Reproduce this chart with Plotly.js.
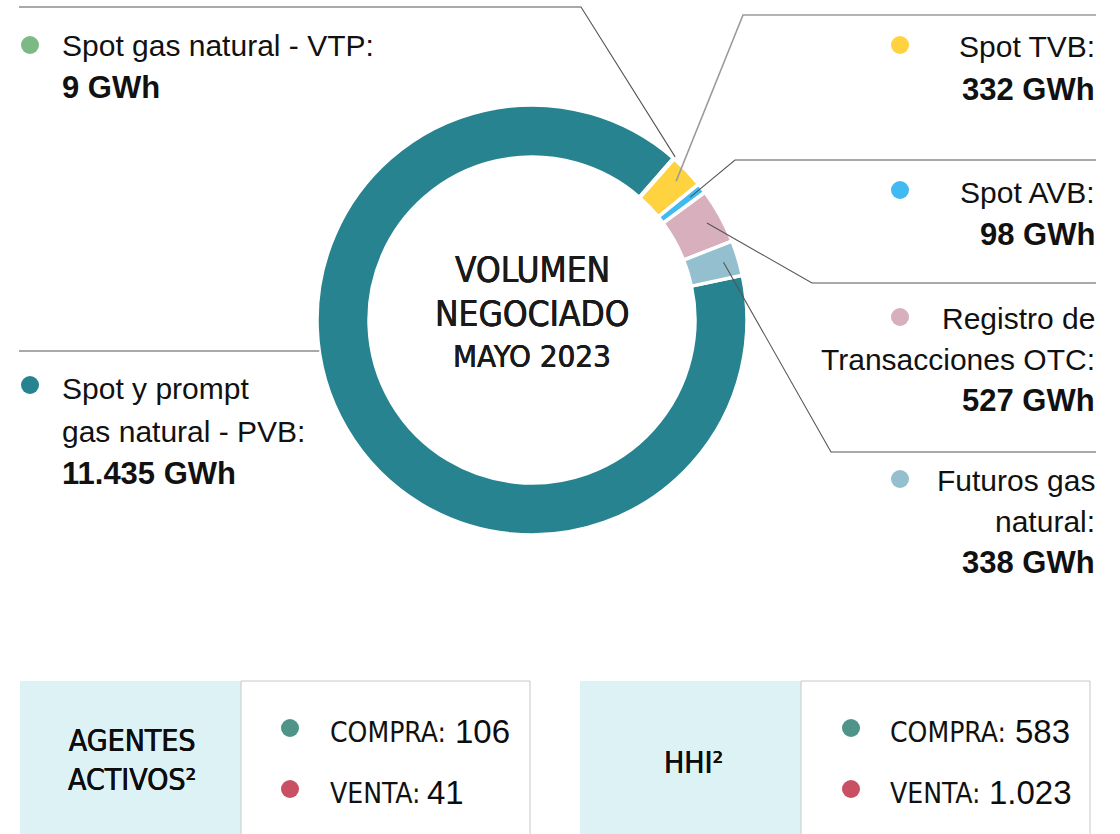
<!DOCTYPE html>
<html><head><meta charset="utf-8">
<script src="https://cdn.plot.ly/plotly-3.0.1.min.js"></script>
<style>html,body{margin:0;padding:0;background:#ffffff;}#chart{width:1120px;height:834px;}</style>
</head><body><div id="chart"></div>
<script>
// ---------------- DATA ----------------
const sliceNames = ['Spot y prompt gas natural - PVB', 'Spot gas natural - VTP', 'Spot TVB', 'Spot AVB', 'Registro de Transacciones OTC', 'Futuros gas natural'];
const sliceValues = [11435, 9, 332, 98, 527, 338];
const sliceLabelLines = [
  ['Spot y prompt', 'gas natural - PVB:'],
  ['Spot gas natural - VTP:'],
  ['Spot TVB:'],
  ['Spot AVB:'],
  ['Registro de', 'Transacciones OTC:'],
  ['Futuros gas', 'natural:']
];
const centerLines = ['VOLUMEN', 'NEGOCIADO', 'MAYO 2023'];
const statTitles = ['AGENTES<br>ACTIVOS²', 'HHI²'];
const statRowNames = ['COMPRA:', 'VENTA:'];
const agentesValues = [106, 41];
const hhiValues = [583, 1023];

// ---------------- STYLE / LAYOUT ----------------
const sliceColors = ['#26838F', '#7DB984', '#FFD23F', '#40BAF0', '#D8AFBD', '#93BFCE'];
const rowColors = ['#4E9488', '#C94F63'];
const W = 1120, H = 834;
const px = x => x / W, py = y => 1 - y / H;
const CX = 532, CY = 320, R = 215, HOLE = 0.758, ROT = 78;
const FONT_REG = 'Liberation Sans, Arial, sans-serif';
const FONT_COND = 'Liberation Sans Narrow, Arial Narrow, DejaVu Sans Condensed, sans-serif';
const TXT = '#111111';
const THICK = '0.3px 0 0 #1a1a1a, -0.3px 0 0 #1a1a1a';

// label placement per slice (pixels)
const labelPlace = [
  {anchor: 'left',  x: 60,   ys: [388, 431, 473], dot: [30, 385],  path: [[19, 351]], edgeY: 351},
  {anchor: 'left',  x: 60,   ys: [45, 87],        dot: [30, 45],   path: [[19, 7], [581, 7]], r: 217},
  {anchor: 'right', x: 1097, ys: [47, 89],        dot: [900, 45],  path: [[1096, 15], [743, 15]], r: 200, lineColor: '#9a9a9a', lineW: 1.6},
  {anchor: 'right', x: 1097, ys: [192, 234],      dot: [900, 190], path: [[1096, 160], [735, 160]], r: 200},
  {anchor: 'right', x: 1097, ys: [318, 359, 400], dot: [900, 317], path: [[1096, 283], [812, 283]], r: 200},
  {anchor: 'right', x: 1097, ys: [480, 521, 562], dot: [900, 479], path: [[1096, 452], [831, 452]], r: 200}
];

function fmt(n) { return String(n).replace(/\B(?=(\d{3})+(?!\d))/g, '.'); }

const total = sliceValues.reduce((a, b) => a + b, 0);
function midAngle(i) {
  let before = 0;
  for (let k = 0; k < i; k++) before += sliceValues[k];
  return ROT + 360 * (before + sliceValues[i] / 2) / total;
}
function polar(aDeg, r) {
  const a = aDeg * Math.PI / 180;
  return [CX + r * Math.sin(a), CY - r * Math.cos(a)];
}

const shapes = [];
const annotations = [];

// bottom boxes
const boxes = [[20, 241, 530], [580, 801, 1090]];
boxes.forEach(b => {
  shapes.push({type: 'rect', xref: 'paper', yref: 'paper', x0: px(b[0]), x1: px(b[1]), y0: py(681), y1: py(860), fillcolor: '#DDF2F5', line: {width: 0}, layer: 'below'});
  shapes.push({type: 'rect', xref: 'paper', yref: 'paper', x0: px(b[1]), x1: px(b[2]), y0: py(681), y1: py(860), fillcolor: '#ffffff', line: {width: 1, color: '#C8C8C8'}, layer: 'below'});
});

// leader lines, dots, labels
labelPlace.forEach((p, i) => {
  let end;
  if (p.edgeY !== undefined) {
    end = [CX - Math.sqrt(R * R - (p.edgeY - CY) * (p.edgeY - CY)), p.edgeY];
  } else {
    end = polar(midAngle(i), p.r);
  }
  const pts = p.path.concat([end]);
  const d = pts.map((q, k) => (k ? 'L' : 'M') + px(q[0]).toFixed(5) + ',' + py(q[1]).toFixed(5)).join(' ');
  shapes.push({type: 'path', xref: 'paper', yref: 'paper', path: d, line: {color: p.lineColor || '#555555', width: p.lineW || 1.1}});
  const rd = 9;
  shapes.push({type: 'circle', xref: 'paper', yref: 'paper', x0: px(p.dot[0] - rd), x1: px(p.dot[0] + rd), y0: py(p.dot[1] + rd), y1: py(p.dot[1] - rd), fillcolor: sliceColors[i], line: {width: 0}});
  const lines = sliceLabelLines[i].concat(['<b>' + fmt(sliceValues[i]) + ' GWh</b>']);
  lines.forEach((t, k) => {
    const isVal = k === lines.length - 1;
    annotations.push({xref: 'paper', yref: 'paper', x: px(p.x), y: py(p.ys[k]), xanchor: p.anchor, yanchor: 'middle', showarrow: false, text: t, align: p.anchor, font: {family: FONT_REG, size: isVal ? 31 : 30, color: TXT}});
  });
});

// center text
const centerYs = [270, 314, 356];
const centerSizes = [35, 35, 31];
centerLines.forEach((t, k) => {
  annotations.push({xref: 'paper', yref: 'paper', x: px(CX), y: py(centerYs[k]), xanchor: 'center', yanchor: 'middle', showarrow: false, text: t, font: {family: FONT_COND, size: centerSizes[k], color: '#1a1a1a', shadow: THICK}});
});

// stat boxes
const statTitlePos = [[132, 760], [693, 762]];
const statDotX = [290, 851];
const statNameX = [328, 888];
const statValX = [[453, 425], [1013, 987]];
const statRowY = [[728, 732], [789, 793]];
const statVals = [agentesValues, hhiValues];
statTitles.forEach((t, b) => {
  annotations.push({xref: 'paper', yref: 'paper', x: px(statTitlePos[b][0]), y: py(statTitlePos[b][1]), xanchor: 'center', yanchor: 'middle', showarrow: false, text: t, align: 'center', font: {family: FONT_COND, size: 30, color: '#0d0d0d', shadow: THICK}});
  statRowNames.forEach((nm, r) => {
    shapes.push({type: 'circle', xref: 'paper', yref: 'paper', x0: px(statDotX[b] - 9), x1: px(statDotX[b] + 9), y0: py(statRowY[r][0] + 9), y1: py(statRowY[r][0] - 9), fillcolor: rowColors[r], line: {width: 0}});
    annotations.push({xref: 'paper', yref: 'paper', x: px(statNameX[b]), y: py(statRowY[r][1]), xanchor: 'left', yanchor: 'middle', showarrow: false,
      text: nm, font: {family: FONT_COND, size: 28, color: '#111111'}});
    annotations.push({xref: 'paper', yref: 'paper', x: px(statValX[b][r]), y: py(statRowY[r][1] - 1), xanchor: 'left', yanchor: 'middle', showarrow: false,
      text: fmt(statVals[b][r]), font: {family: FONT_REG, size: 33, color: '#0d0d0d'}});
  });
});

const trace = {
  type: 'pie',
  labels: sliceNames,
  values: sliceValues,
  sort: false,
  direction: 'clockwise',
  rotation: ROT,
  hole: HOLE,
  textinfo: 'none',
  hoverinfo: 'label+value',
  marker: {colors: sliceColors, line: {color: '#ffffff', width: 3.5}},
  domain: {x: [px(CX - R), px(CX + R)], y: [py(CY + R), py(CY - R)]}
};

const layout = {
  width: W, height: H,
  margin: {l: 0, r: 0, t: 0, b: 0},
  paper_bgcolor: '#ffffff',
  plot_bgcolor: '#ffffff',
  showlegend: false,
  shapes: shapes,
  annotations: annotations
};

Plotly.newPlot('chart', [trace], layout, {displayModeBar: false, staticPlot: true});
</script>
</body></html>
